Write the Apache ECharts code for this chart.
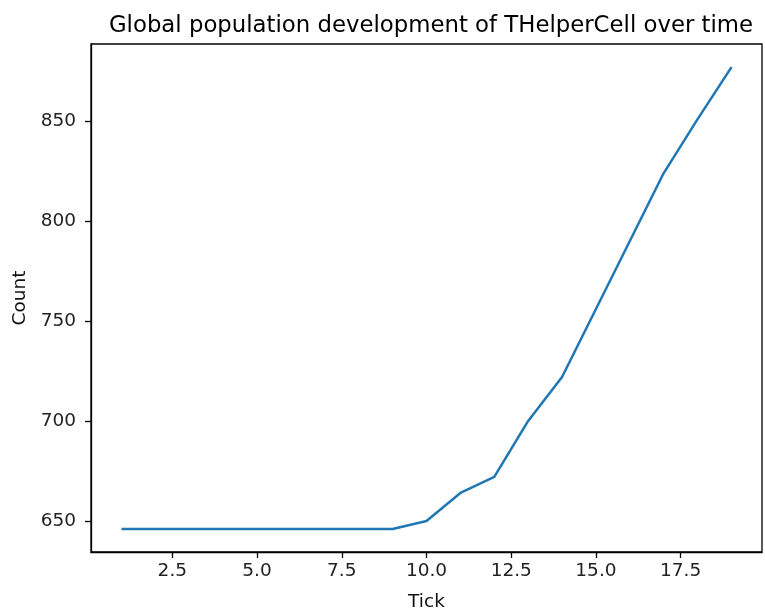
<!DOCTYPE html>
<html>
<head>
<meta charset="utf-8">
<script src="https://cdn.jsdelivr.net/npm/echarts@6/dist/echarts.min.js"></script>
<style>html,body{margin:0;padding:0;background:#fff}#c{width:765px;height:612px}</style>
</head>
<body>
<div id="c"></div>
<script>
const ticks = [1,2,3,4,5,6,7,8,9,10,11,12,13,14,15,16,17,18,19];
const counts = [646,646,646,646,646,646,646,646,646,650,664,672,700,722,756,790,824,851,877];
const xTickLabels = [2.5,5.0,7.5,10.0,12.5,15.0,17.5];
const yTickLabels = [650,700,750,800,850];

const chart = echarts.init(document.getElementById('c'), null, {renderer:'canvas'});
const font = 'DejaVu Sans';
const data = ticks.map((t,i)=>[t,counts[i]]);
chart.setOption({
  animation:false,
  title:{text:'Global population development of THelperCell over time',left:426,textAlign:'center',top:10,
    textStyle:{fontFamily:font,fontSize:22.8,fontWeight:'normal',color:'#000'}},
  grid:{left:91,right:3,top:44,bottom:60,containLabel:false,outerBoundsMode:'none',show:true,borderColor:'#000',borderWidth:1.3,backgroundColor:'transparent'},
  xAxis:{type:'value',min:0.1,max:19.9,
    name:'Tick',nameLocation:'middle',nameGap:41,
    nameTextStyle:{fontFamily:font,fontSize:18.5,color:'#111'},
    axisLine:{show:true,lineStyle:{color:'#000',width:1.3}},
    axisTick:{show:true,inside:false,length:6,lineStyle:{color:'#000',width:1.3},customValues:xTickLabels},
    axisLabel:{fontFamily:font,fontSize:18.5,color:'#222',margin:10,customValues:xTickLabels,formatter:v=>v.toFixed(1)},
    splitLine:{show:false}},
  yAxis:{type:'value',min:634.45,max:888.55,
    name:'Count',nameLocation:'middle',nameGap:59,
    nameTextStyle:{fontFamily:font,fontSize:18.5,color:'#111'},
    axisLine:{show:true,lineStyle:{color:'#000',width:1.3}},
    axisTick:{show:true,inside:false,length:6,lineStyle:{color:'#000',width:1.3},customValues:yTickLabels},
    axisLabel:{fontFamily:font,fontSize:18.5,color:'#222',margin:15,customValues:yTickLabels,formatter:v=>String(v)},
    splitLine:{show:false}},
  series:[{type:'line',data:data,showSymbol:false,symbol:'none',
    lineStyle:{color:'#1f77b4',width:2.5},itemStyle:{color:'#1f77b4'}}]
});
</script>
</body>
</html>
